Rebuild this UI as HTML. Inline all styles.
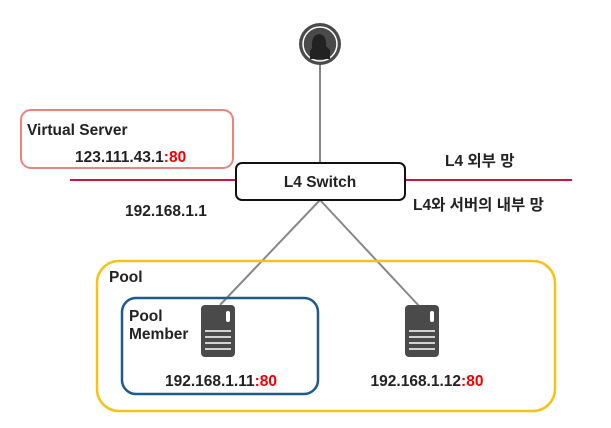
<!DOCTYPE html>
<html><head><meta charset="utf-8"><style>
body{margin:0;background:#fff;}
svg text{font-family:"Liberation Sans","Noto Sans CJK KR",sans-serif;font-weight:bold;fill:#222;}
</style></head><body>
<svg width="611" height="423" viewBox="0 0 611 423" xmlns="http://www.w3.org/2000/svg">
<line x1="320" y1="60" x2="320" y2="168" stroke="#888" stroke-width="2"/>
<line x1="320" y1="200" x2="220" y2="305" stroke="#888" stroke-width="2"/>
<line x1="320" y1="200" x2="420" y2="307" stroke="#888" stroke-width="2"/>
<circle cx="320" cy="44" r="21" fill="#4a4a4a"/>
<circle cx="320" cy="44" r="17" fill="none" stroke="#fff" stroke-width="1.5"/>
<path d="M312 48 q-1-13 7-14 q8 1 7 12 l4 4 v9 h-20 v-8z" fill="#222"/>
<line x1="70" y1="180" x2="572" y2="180" stroke="#c8193c" stroke-width="2"/>
<rect x="21" y="110" width="212" height="58" rx="10" fill="#fff" stroke="#f08080" stroke-width="2"/>
<text x="27" y="135" font-size="15.5">Virtual Server</text>
<text x="75" y="162" font-size="15.5">123.111.43.1<tspan style="fill:#e00">:80</tspan></text>
<rect x="236" y="163" width="169" height="37" rx="6" fill="#fff" stroke="#111" stroke-width="2"/>
<text x="320" y="187" font-size="15.5" text-anchor="middle">L4 Switch</text>
<text x="445" y="166" font-size="15.5">L4 외부 망</text>
<text x="413" y="210" font-size="15.5">L4와 서버의 내부 망</text>
<text x="125" y="216" font-size="15.5">192.168.1.1</text>
<rect x="97" y="261" width="458" height="150" rx="22" fill="none" stroke="#f5c21b" stroke-width="2.5"/>
<text x="109" y="282" font-size="15.5">Pool</text>
<rect x="122" y="298" width="196" height="96" rx="14" fill="none" stroke="#1e5a8e" stroke-width="2.5"/>
<text x="129" y="321" font-size="15.5">Pool</text>
<text x="129" y="339" font-size="15.5">Member</text>
<g fill="#4a4a4a">
<rect x="201" y="305" width="34" height="52" rx="4"/>
<rect x="405" y="305" width="34" height="52" rx="4"/>
</g>
<g fill="#fff">
<rect x="226" y="311" width="4" height="11" rx="2"/>
<rect x="430" y="311" width="4" height="11" rx="2"/>
</g>
<g stroke="#fff" stroke-width="1.5">
<line x1="205" y1="331" x2="231" y2="331"/><line x1="205" y1="337" x2="231" y2="337"/><line x1="205" y1="343" x2="231" y2="343"/><line x1="205" y1="349" x2="231" y2="349"/>
<line x1="409" y1="331" x2="435" y2="331"/><line x1="409" y1="337" x2="435" y2="337"/><line x1="409" y1="343" x2="435" y2="343"/><line x1="409" y1="349" x2="435" y2="349"/>
</g>
<text x="221" y="386" font-size="15.5" text-anchor="middle">192.168.1.11<tspan style="fill:#e00">:80</tspan></text>
<text x="427" y="386" font-size="15.5" text-anchor="middle">192.168.1.12<tspan style="fill:#e00">:80</tspan></text>
</svg>
</body></html>
